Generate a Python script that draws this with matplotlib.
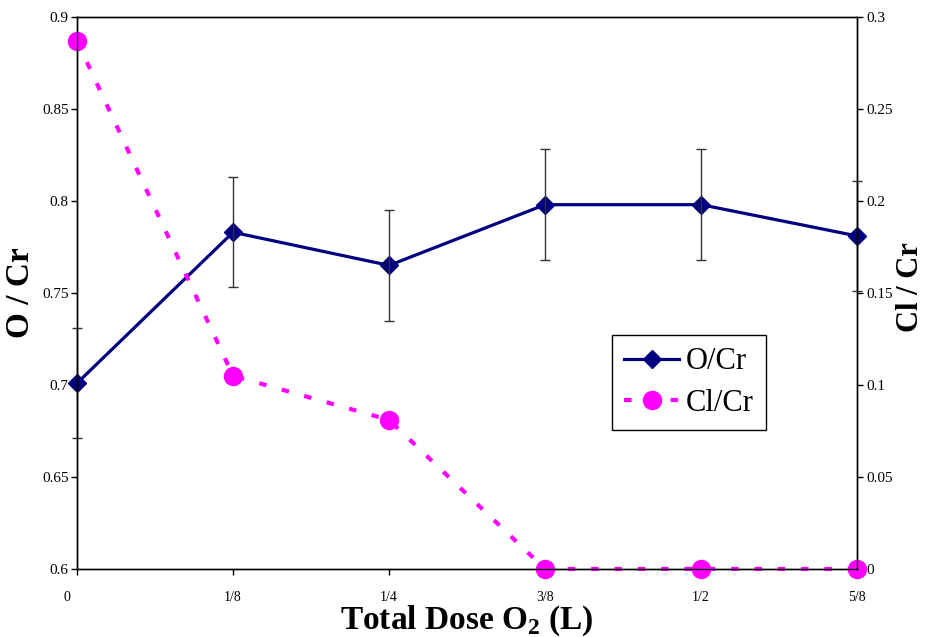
import numpy as np
import matplotlib.pyplot as plt
from matplotlib.transforms import ScaledTranslation

plt.rcParams['font.family'] = 'Liberation Serif'
plt.rcParams['mathtext.fontset'] = 'custom'
plt.rcParams['mathtext.bf'] = 'Liberation Serif:bold'

# Datos
dose = [0, 1/8, 1/4, 3/8, 1/2, 5/8]
dose_labels = ['0', '1/8', '1/4', '3/8', '1/2', '5/8']
o_cr = [0.701, 0.783, 0.765, 0.798, 0.798, 0.781]
o_cr_err = [0.03, 0.03, 0.03, 0.03, 0.03, 0.03]
cl_cr = [0.287, 0.105, 0.081, 0.0, 0.0, 0.0]

fig = plt.figure(figsize=(9.26, 6.37), dpi=100)
ax = fig.add_axes([0.0832, 0.1068, 0.8424, 0.8665])
ax2 = ax.twinx()

# O/Cr con barras de error (eje izquierdo)
l1, = ax.plot(dose, o_cr, color='#000080', lw=2.3, marker='D', ms=9,
              label='O/Cr', zorder=2, clip_on=False)
ax.errorbar(dose, o_cr, yerr=o_cr_err, fmt='none', ecolor='#333333',
            elinewidth=1, capsize=3.5, capthick=1, zorder=3, clip_on=False)

# Cl/Cr (eje derecho)
l2, = ax2.plot(dose, cl_cr, color='#FF00FF', lw=3, ls=(0, (1.8, 3.8)),
               marker='o', ms=13, label='Cl/Cr', clip_on=False)

ax.set_xlim(0, 0.625)
ax.set_ylim(0.6, 0.9)
ax2.set_ylim(0, 0.3)

ax.set_xticks(dose)
ax.set_xticklabels(dose_labels)
ax.set_yticks(np.arange(0.6, 0.901, 0.05))
ax.set_yticklabels(['%g' % v for v in np.arange(0.6, 0.901, 0.05)])
ax2.set_yticks(np.arange(0, 0.301, 0.05))
ax2.set_yticklabels(['%g' % round(v, 2) for v in np.arange(0, 0.301, 0.05)])

ax.tick_params(axis='x', direction='out', length=4, width=1, labelsize=10, pad=12)
ax.tick_params(axis='y', direction='out', length=4, width=1, labelsize=11, pad=2)
ax2.tick_params(axis='y', direction='out', length=4, width=1, labelsize=11, pad=3)

# la etiqueta "0" va un poco a la izquierda, como en el original
lbl0 = ax.get_xticklabels()[0]
lbl0.set_transform(lbl0.get_transform() + ScaledTranslation(-10/100, 0, fig.dpi_scale_trans))

for a in (ax, ax2):
    for s in a.spines.values():
        s.set_linewidth(1)
        s.set_color('black')

ax.set_xlabel(r'Total Dose O$_{\mathbf{2}}$ (L)', fontsize=24, fontweight='bold')
ax.xaxis.set_label_coords(0.5, -0.0635)
ax.set_ylabel('O / Cr', fontsize=24, fontweight='bold')
ax.yaxis.set_label_coords(-0.0526, 0.5)
ax2.set_ylabel('Cl / Cr', fontsize=22, fontweight='bold')
ax2.yaxis.set_label_coords(1.05, 0.51)

leg = ax2.legend([l1, l2], ['O/Cr', 'Cl/Cr'], loc='lower left',
                 bbox_to_anchor=(0.686, 0.252), fontsize=22, fancybox=False,
                 edgecolor='black', framealpha=1, borderpad=0.4,
                 handlelength=1.8, handletextpad=0.2, labelspacing=0.4,
                 borderaxespad=0)
leg.get_frame().set_linewidth(1)

fig.savefig('out.png', dpi=100)
